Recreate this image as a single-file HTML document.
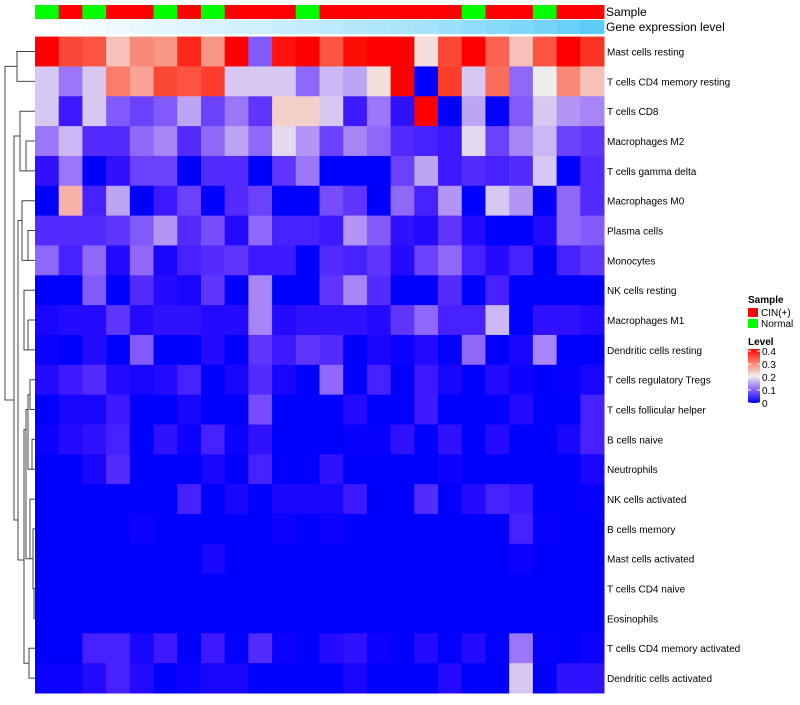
<!DOCTYPE html>
<html><head><meta charset="utf-8"><style>
body{margin:0;background:#fff;}
svg text{font-family:"Liberation Sans",sans-serif;}
</style></head><body>
<svg id="chart" width="800" height="700" xmlns="http://www.w3.org/2000/svg">
<g id="dendro" stroke="#444" fill="none" stroke-width="1"></g>
<g id="cells"></g>
<g id="annot"></g>
<g id="labels" font-size="10" fill="#000"></g>
<text x="606" y="16" font-size="12">Sample</text>
<text x="606" y="31" font-size="12">Gene expression level</text>
<g id="legend" font-size="10">
<text x="748" y="303" font-weight="bold">Sample</text>
<rect x="748" y="308" width="10" height="9" fill="#ff0000"/>
<text x="761" y="316">CIN(+)</text>
<rect x="748" y="319" width="10" height="9" fill="#00ff00"/>
<text x="761" y="327">Normal</text>
<text x="748" y="345" font-weight="bold">Level</text>
<defs><linearGradient id="lg" x1="0" y1="1" x2="0" y2="0"><stop offset="0" stop-color="#0000ff"/><stop offset="0.25" stop-color="#8a64f8"/><stop offset="0.5" stop-color="#eeeeee"/><stop offset="0.75" stop-color="#ff8068"/><stop offset="1" stop-color="#ff0000"/></linearGradient></defs>
<rect x="748" y="349" width="12" height="54" fill="url(#lg)"/>
<g id="ticks"></g>
</g>
</svg>
<script>
const rowNames=["Mast cells resting","T cells CD4 memory resting","T cells CD8","Macrophages M2","T cells gamma delta","Macrophages M0","Plasma cells","Monocytes","NK cells resting","Macrophages M1","Dendritic cells resting","T cells regulatory  Tregs","T cells follicular helper","B cells naive","Neutrophils","NK cells activated","B cells memory","Mast cells activated","T cells CD4 naive","Eosinophils","T cells CD4 memory activated","Dendritic cells activated"];
const sampleGroups=["N","C","N","C","C","N","C","N","C","C","C","N","C","C","C","C","C","C","N","C","C","N","C","C"];
const geneLevel=[0,0.03,0.06,0.09,0.12,0.15,0.18,0.21,0.24,0.27,0.3,0.33,0.36,0.4,0.43,0.47,0.5,0.54,0.6,0.65,0.7,0.75,0.82,0.9];
const levelTicks=[0,0.1,0.2,0.3,0.4];
const r0=[.42,.32,.31,.23,.27,.26,.35,.26,.42,.11,.37,.42,.31,.38,.42,.42,.21,.32,.42,.30,.23,.31,.42,.34];
const r1=[.18,.13,.18,.28,.25,.32,.31,.33,.18,.18,.18,.12,.17,.16,.21,.45,0,.33,.18,.29,.12,.2,.27,.23];
const r2=[.18,.05,.18,.11,.09,.11,.16,.09,.13,.08,.22,.22,.18,.05,.13,.04,.45,0,.16,0,.11,.18,.15,.14];
const r3=[.13,.17,.07,.07,.12,.14,.07,.12,.16,.12,.19,.15,.09,.14,.12,.07,.06,.05,.19,.09,.14,.17,.09,.08];
const r4=[.04,.13,0,.04,.09,.09,0,.07,.07,0,.08,.13,0,0,0,.09,.16,.05,.07,.06,.07,.18,0,.07];
const r5=[0,.24,.06,.16,0,.05,.09,0,.07,.09,0,0,.10,.08,0,.12,.06,.15,0,.18,.15,0,.12,.07];
const r6=[.07,.07,.07,.08,.11,.15,.07,.10,.03,.12,.06,.06,.05,.15,.11,.04,.03,.08,.03,0,0,.03,.12,.11];
const r7=[.12,.06,.12,.03,.12,.02,.06,.07,.08,.05,.05,0,.07,.06,.08,.03,.09,.12,.06,.03,.06,0,.06,.08];
const r8=[0,0,.11,0,.07,.03,.02,.08,0,.14,0,0,.08,.14,.07,0,0,.07,0,.06,0,0,0,0];
const r9=[.02,.03,.03,.08,.03,.04,.04,.03,.03,.14,.03,.04,.04,.04,.03,.08,.12,.06,.06,.17,0,.04,.04,.03];
const r10=[.01,0,.03,0,.11,0,0,.03,0,.08,.05,.08,.07,0,.02,.01,.03,0,.12,0,.02,.14,0,0];
const r11=[.03,.05,.07,.03,.02,.03,.06,0,.02,.07,.02,0,.12,0,.06,0,.05,.02,0,.03,.01,0,.005,.02];
const r12=[0,.02,.02,.05,0,0,.02,0,0,.10,0,0,0,.03,0,0,.05,0,0,0,.03,0,0,.06];
const r13=[.01,.03,.04,.06,0,.04,.01,.06,.01,.04,0,0,0,.005,.005,.04,0,.04,0,.03,0,0,.02,.06];
const r14=[0,0,.02,.07,0,0,0,.02,0,.06,0,0,.04,0,0,0,0,.01,0,0,0,0,0,.02];
const r15=[0,0,0,0,0,0,.06,0,.02,0,.02,.02,.02,.05,0,0,.07,0,.03,.06,.05,0,0,.005];
const r16=[0,0,0,0,.01,0,0,0,0,0,.01,0,.01,0,0,0,0,0,0,0,.06,.005,0,0];
const r17=[0,0,0,0,0,0,0,.02,0,0,0,0,0,0,0,0,0,0,0,0,.01,0,0,0];
const r18=[0,0,0,0,0,0,0,0,0,0,0,0,0,0,0,0,0,0,0,0,0,0,0,0];
const r19=[0,0,0,0,0,0,0,0,0,0,0,0,0,0,0,0,0,0,0,0,0,0,0,0];
const r20=[0,0,.06,.06,.02,.05,0,.05,0,.07,.01,0,.03,.04,.01,0,.03,0,.03,0,.13,.005,0,.01];
const r21=[.01,.01,.03,.06,.03,0,.01,.02,.02,0,0,0,0,.02,0,0,0,.03,0,0,.18,0,.04,.04];
const values=[r0,r1,r2,r3,r4,r5,r6,r7,r8,r9,r10,r11,r12,r13,r14,r15,r16,r17,r18,r19,r20,r21];

const NS="http://www.w3.org/2000/svg";
const X0=35,X1=604,Y0=36.6,Y1=693;
const nC=24,nR=rowNames.length;
const cw=(X1-X0)/nC,rh=(Y1-Y0)/nR;
const xPos=i=>X0+i*cw, yPos=j=>Y0+j*rh;
function mix(a,b,t){return a.map((v,i)=>Math.round(v+(b[i]-v)*t));}
function colorOf(v){
  const t=Math.max(0,Math.min(1,v/0.4));
  let r,g,b;
  if(t<0.5){const s=t/0.5;r=238*s;g=238*Math.pow(s,1.63);b=255-17*s*s;}
  else{const s=(t-0.5)/0.5;r=238+17*Math.pow(s,0.5);g=238*Math.pow(1-s,1.3);b=238*Math.pow(1-s,1.6);}
  return `rgb(${Math.round(r)},${Math.round(g)},${Math.round(b)})`;
}
function mk(tag,attrs,parent){const e=document.createElementNS(NS,tag);for(const k in attrs)e.setAttribute(k,attrs[k]);parent.appendChild(e);return e;}
const cells=document.getElementById('cells');
values.forEach((row,j)=>{row.forEach((v,i)=>{
  const r=mk('rect',{x:xPos(i),y:yPos(j),width:cw+0.5,height:rh+0.5,fill:colorOf(v)},cells);
  
  
});});
const labels=document.getElementById('labels');
rowNames.forEach((n,j)=>{
  const t=mk('text',{x:X1+3,y:yPos(j)+rh/2+4},labels);t.textContent=n;
  
  
});
const annot=document.getElementById('annot');
sampleGroups.forEach((g,i)=>{
  const r=mk('rect',{x:xPos(i),y:5,width:cw+0.5,height:14,fill:g==="C"?"#ff0000":"#00ff00"},annot);
  
  
});
geneLevel.forEach((v,i)=>{
  const c=mix([255,255,255],[72,198,246],v);
  const r=mk('rect',{x:xPos(i),y:20,width:cw+0.5,height:14,fill:`rgb(${c[0]},${c[1]},${c[2]})`},annot);
  
  
});
const ticks=document.getElementById('ticks');
levelTicks.forEach(v=>{
  const y=403-(v/0.4)*52;
  mk('line',{x1:748,x2:751,y1:y,y2:y,stroke:"#fff"},ticks);
  mk('line',{x1:757,x2:760,y1:y,y2:y,stroke:"#fff"},ticks);
  const t=mk('text',{x:762,y:y+4,"font-size":"10"},ticks);t.textContent=String(v);
  
  
});
const d=document.getElementById('dendro');
const cy=j=>yPos(j)+rh/2;
function br(x,ya,yb,xa,xb){mk('path',{d:`M${xa},${ya}H${x}V${yb}H${xb}`},d);}
br(17,cy(0),cy(1),35,35);
br(20,cy(2),cy(4),35,26);
br(26,cy(3),cy(4),35,35);
br(5,(cy(0)+cy(1))/2,400,17,14);
br(14,cy(3)-5,520,20,18);
br(22,cy(5),cy(7),35,28);
br(28,cy(6),cy(7),35,35);
br(18,cy(6)-10,560,22,24);
br(24,cy(8),cy(10),35,28);
br(28,cy(9),cy(10),35,35);
br(30,cy(11),cy(12),35,35);
br(28,cy(11)+15,cy(14),30,32);
br(32,cy(13),cy(14),35,35);
br(26,cy(12),cy(17),28,30);
br(30,cy(15),cy(17),35,33);
br(33,cy(16),cy(18),35,34);
br(34,cy(18),cy(19),35,35);
br(24,cy(12)+20,cy(20)+15,26,29);
br(29,cy(20),cy(21),35,35);
</script>
</body></html>
